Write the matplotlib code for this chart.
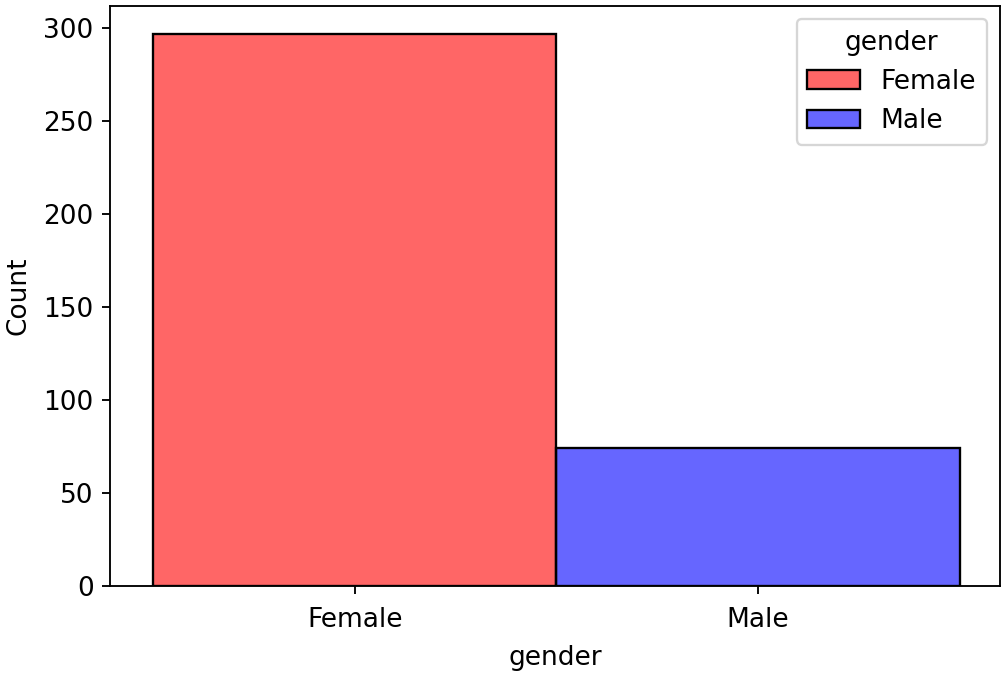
import matplotlib
matplotlib.use("Agg")
import matplotlib.pyplot as plt
from matplotlib.patches import Patch

categories = ["Female", "Male"]
counts = [297, 74]
colors = ["red", "blue"]

plt.rcParams["font.size"] = 11.3

dpi = 167.8
fig = plt.figure(figsize=(1007 / dpi, 673 / dpi), dpi=dpi)
ax = fig.add_axes([110 / 1007, 1 - 586 / 673, (1000 - 110) / 1007, (586 - 6) / 673])

x = list(range(len(categories)))
ax.bar(x, counts, width=1.0, color=colors, alpha=0.6, edgecolor="none")
ax.bar(x, counts, width=1.0, facecolor="none", edgecolor="black", linewidth=1.0)

ax.set_xticks(x)
ax.set_xticklabels(categories)
ax.tick_params(axis="x", pad=5.5)
ax.set_xlim(-0.607, 1.6)
ax.set_ylim(0, 311.9)
ax.set_yticks([0, 50, 100, 150, 200, 250, 300])
ax.set_xlabel("gender", labelpad=5)
ax.set_ylabel("Count", labelpad=5)

handles = [Patch(facecolor=(1, 0.4, 0.4), edgecolor="black", label="Female"),
           Patch(facecolor=(0.4, 0.4, 1), edgecolor="black", label="Male")]
ax.legend(handles=handles, title="gender", loc="upper right")

fig.savefig("out.png", dpi=dpi)
